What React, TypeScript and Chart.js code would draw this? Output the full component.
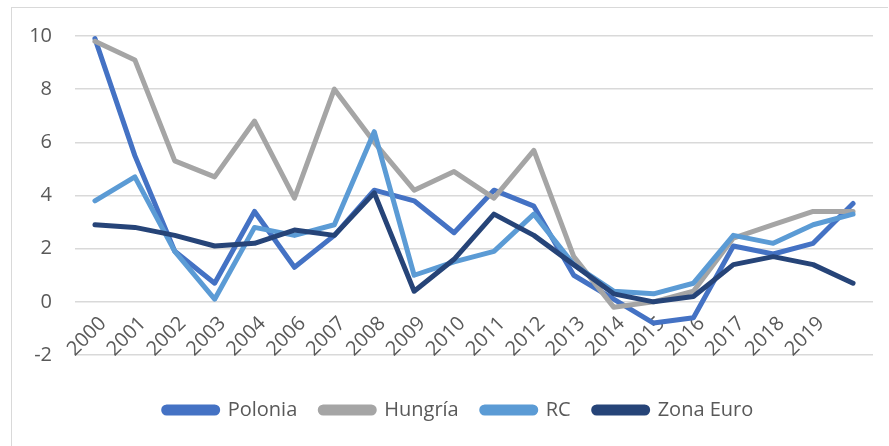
import React, { useEffect, useRef } from "react";
import { Chart, registerables } from "chart.js";

Chart.register(...registerables);

const years = ["2000", "2001", "2002", "2003", "2004", "2006", "2007", "2008", "2009", "2010", "2011", "2012", "2013", "2014", "2015", "2016", "2017", "2018", "2019", ""];
const polonia = [9.9, 5.5, 1.9, 0.7, 3.4, 1.3, 2.5, 4.2, 3.8, 2.6, 4.2, 3.6, 1.0, 0.1, -0.8, -0.6, 2.1, 1.8, 2.2, 3.7];
const hungria = [9.8, 9.1, 5.3, 4.7, 6.8, 3.9, 8.0, 6.0, 4.2, 4.9, 3.9, 5.7, 1.7, -0.2, 0.0, 0.4, 2.4, 2.9, 3.4, 3.4];
const rc = [3.8, 4.7, 1.9, 0.1, 2.8, 2.5, 2.9, 6.4, 1.0, 1.5, 1.9, 3.3, 1.4, 0.4, 0.3, 0.7, 2.5, 2.2, 2.9, 3.3];
const zonaEuro = [2.9, 2.8, 2.5, 2.1, 2.2, 2.7, 2.5, 4.1, 0.4, 1.6, 3.3, 2.5, 1.4, 0.3, 0.0, 0.2, 1.4, 1.7, 1.4, 0.7];
const yMin = -2;
const yMax = 10;
const yStep = 2;

const FONT = "'Open Sans', 'DejaVu Sans', sans-serif";

const legendShift = {
  id: "legendShift",
  afterLayout(chart: any) {
    const l = chart.legend;
    if (l) {
      l.left += 9;
      l.right += 9;
    }
  },
};

export default function App() {
  const ref = useRef<HTMLCanvasElement | null>(null);

  useEffect(() => {
    if (!ref.current) return;
    const mk = (label: string, data: number[], color: string, order: number) => ({
      label,
      data,
      borderColor: color,
      backgroundColor: color,
      borderWidth: 5,
      pointRadius: 0,
      pointHoverRadius: 0,
      tension: 0,
      borderCapStyle: "round" as const,
      borderJoinStyle: "round" as const,
      fill: false,
      order,
    });
    const chart = new Chart(ref.current, {
      type: "line",
      data: {
        labels: years,
        datasets: [
          mk("Polonia", polonia, "#4472C4", 4),
          mk("Hungría", hungria, "#A5A5A5", 3),
          mk("RC", rc, "#5B9BD5", 2),
          mk("Zona Euro", zonaEuro, "#264478", 1),
        ],
      },
      plugins: [legendShift],
      options: {
        animation: false,
        responsive: true,
        maintainAspectRatio: false,
        layout: { padding: { left: 26, right: 16, top: 36, bottom: 16 } },
        scales: {
          x: {
            type: "category",
            offset: true,
            position: { y: 0 } as any,
            grid: { display: false, drawTicks: false },
            border: { display: false },
            ticks: {
              autoSkip: false,
              minRotation: 45,
              maxRotation: 45,
              padding: 10,
              labelOffset: 8,
              color: "#595959",
              font: { family: FONT, size: 20 },
            },
            afterFit: (s: any) => {
              s.paddingLeft = 0;
              s.paddingRight = 0;
              s.paddingTop = 0;
              s.paddingBottom = 0;
            },
          } as any,
          x2: {
            type: "linear",
            axis: "x",
            position: "bottom",
            display: true,
            grid: { display: false, drawTicks: false },
            border: { display: false },
            ticks: { display: false },
            afterFit: (s: any) => {
              s.height = 22;
            },
          } as any,
          y: {
            min: yMin,
            max: yMax,
            grid: { color: "#d9d9d9", lineWidth: 1.5, drawTicks: false },
            border: { display: false },
            ticks: {
              stepSize: yStep,
              padding: 23,
              color: "#595959",
              font: { family: FONT, size: 20 },
            },
            afterFit: (s: any) => {
              s.width = 49;
            },
          } as any,
        },
        plugins: {
          tooltip: { enabled: false },
          legend: {
            position: "bottom",
            labels: {
              boxWidth: 54,
              boxHeight: 6,
              useBorderRadius: true,
              borderRadius: 3,
              padding: 23,
              color: "#595959",
              font: { family: FONT, size: 20 },
              sort: (a: any, b: any) => a.datasetIndex - b.datasetIndex,
            },
          },
        },
      },
    });
    return () => chart.destroy();
  }, []);

  return (
    <div style={{ position: "fixed", left: 0, top: 0, width: 889, height: 446, overflow: "hidden", background: "#fff" }}>
      <div
        style={{
          position: "absolute",
          left: 11,
          top: 7,
          width: 877,
          height: 460,
          border: "1px solid #d9d9d9",
          borderRight: "none",
          boxSizing: "border-box",
        }}
      />
      <div style={{ position: "absolute", left: 0, top: 0, width: 889, height: 446 }}>
        <canvas ref={ref} />
      </div>
    </div>
  );
}
